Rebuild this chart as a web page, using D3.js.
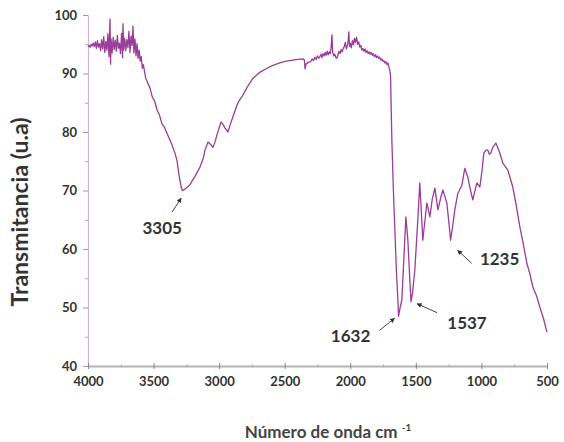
<!DOCTYPE html>
<html>
<head>
<meta charset="utf-8">
<script src="https://cdn.jsdelivr.net/npm/d3@7"></script>
<style>
  body { margin: 0; background: #fff; }
  text { font-family: Lato, "Open Sans", sans-serif; }
</style>
</head>
<body>
<script>
// wavenumber (cm-1) and transmittance
var waveNumber = [
  4000, 3992, 3984, 3976, 3968, 3960, 3952, 3944, 3936, 3928, 3920, 3912, 3904, 3896, 3888, 3880,
  3872, 3864, 3856, 3848, 3840, 3832, 3828, 3824, 3816, 3808, 3800, 3792, 3784, 3776, 3768, 3760,
  3752, 3744, 3736, 3733, 3728, 3720, 3712, 3704, 3696, 3688, 3680, 3672, 3664, 3657, 3650, 3642,
  3634, 3626, 3618, 3610, 3602, 3594, 3586, 3578, 3560, 3545, 3527, 3510, 3492, 3474, 3455, 3436,
  3417, 3398, 3380, 3360, 3340, 3322, 3305, 3290, 3280, 3270, 3245, 3223, 3190, 3146, 3120, 3108,
  3085, 3066, 3047, 3030, 3017, 2986, 2970, 2956, 2933, 2915, 2895, 2857, 2819, 2780, 2742, 2690,
  2636, 2590, 2537, 2490, 2437, 2400, 2361, 2350, 2345, 2338, 2320, 2308,
  2300, 2290, 2280, 2270, 2260, 2250, 2240, 2232, 2224, 2216, 2208, 2200, 2192, 2184, 2176, 2168,
  2160, 2152, 2146, 2140, 2134, 2126, 2118, 2110, 2102, 2094, 2086, 2078, 2070, 2062, 2054, 2046,
  2038, 2030, 2022, 2016, 2011, 2006, 2000, 1992, 1984, 1976, 1968, 1960, 1952, 1944, 1936, 1928,
  1920, 1912, 1904, 1896, 1888, 1880, 1872, 1864, 1856, 1848, 1840, 1832, 1824, 1816, 1808, 1800,
  1792, 1784, 1776, 1768, 1760, 1752, 1744, 1736, 1728, 1720, 1712, 1704, 1698, 1693, 1688, 1683,
  1672, 1660, 1648, 1637, 1632, 1620, 1607, 1592, 1576, 1561, 1546, 1537, 1525, 1508, 1485, 1470,
  1447, 1430, 1416, 1393, 1375, 1355, 1332, 1310, 1294, 1264, 1248, 1235, 1220, 1203, 1180, 1149,
  1127, 1104, 1085, 1066, 1035, 1012, 995, 982, 965, 951, 940, 928, 913, 900, 890, 875,
  860, 837, 799, 761, 735, 707, 680, 654, 630, 608, 580, 555, 524, 501
];
var transmittance = [
  94.6, 94.8, 94.5, 95.0, 94.7, 95.2, 94.6, 95.4, 94.3, 95.6, 94.5, 95.1, 93.9, 95.8, 94.2, 96.3,
  93.6, 95.5, 94.0, 96.8, 92.9, 99.3, 91.6, 95.9, 93.5, 96.2, 94.1, 95.7, 93.8, 96.5, 94.3, 95.2,
  93.4, 96.9, 92.7, 98.5, 94.0, 96.0, 93.9, 95.8, 94.4, 97.2, 93.6, 96.4, 94.8, 98.1, 93.5, 95.9,
  93.0, 95.1, 92.6, 94.0, 92.1, 92.9, 90.9, 91.5, 89.2, 88.4, 87.5, 86.0, 85.3, 83.8, 82.9, 81.4,
  80.8, 79.8, 78.9, 77.8, 76.6, 75.2, 72.5, 70.6, 70.0, 70.1, 70.5, 71.0, 72.2, 74.0, 75.6, 76.9,
  78.3, 77.9, 77.4, 78.4, 79.5, 81.7, 81.3, 80.7, 80.0, 81.3, 82.6, 85.0, 86.3, 87.9, 89.2, 90.2,
  90.9, 91.4, 91.8, 92.1, 92.3, 92.4, 92.5, 92.3, 90.8, 91.6, 91.9, 92.0,
  92.1, 92.5, 92.2, 92.8, 92.4, 93.0, 92.6, 92.9, 93.3, 92.7, 93.4, 93.0, 93.6, 93.1, 93.8, 93.2,
  93.7, 93.4, 94.5, 96.6, 93.6, 93.0, 93.3, 92.7, 92.6, 93.2, 93.8, 93.4, 94.1, 93.7, 94.3, 94.6,
  95.3, 94.2, 94.8, 95.6, 97.1, 94.6, 95.2, 94.4, 95.6, 94.9, 96.0, 95.3, 96.2, 95.0, 95.4, 94.5,
  94.8, 94.0, 94.3, 93.8, 94.2, 93.6, 93.9, 93.4, 93.7, 93.3, 93.6, 93.1, 93.4, 92.9, 93.2, 92.7,
  93.0, 92.6, 92.8, 92.3, 92.5, 92.1, 92.2, 91.8, 92.0, 91.5, 91.8, 91.0, 90.5, 89.5, 84.0, 78.6,
  70.5, 63.2, 56.0, 51.3, 48.5, 50.0, 51.3, 58.1, 65.5, 61.5, 54.7, 51.0, 52.5, 56.4, 65.0, 71.3,
  61.5, 65.0, 67.9, 65.5, 68.5, 70.4, 66.7, 68.8, 70.1, 67.9, 64.5, 61.5, 63.8, 66.7, 69.5, 70.9,
  73.8, 72.3, 70.2, 68.4, 71.3, 70.6, 73.5, 76.4, 76.9, 76.9, 76.2, 76.4, 77.4, 77.8, 78.1, 77.3,
  76.4, 74.7, 73.5, 70.6, 67.5, 63.8, 60.8, 57.6, 55.7, 53.5, 52.0, 50.1, 47.9, 45.8
];

var xTicks = [4000, 3500, 3000, 2500, 2000, 1500, 1000, 500];
var xMinorTicks = [3750, 3250, 2750, 2250, 1750, 1250, 750];
var yTicks = [40, 50, 60, 70, 80, 90, 100];
var yMinorTicks = [45, 55, 65, 75, 85, 95];

// annotated bands and where their labels sit (pixel offsets from the band minimum)
var peakLabels = ["3305", "1632", "1537", "1235"];
var peakWn = [3305, 1632, 1537, 1235];
var peakT = [69.9, 48.5, 51.0, 61.5];
var tipOff = [[2, 7], [-4, 2], [6, 2], [7, 10]];
var tailOff = [[-7, 21], [-19, 14], [26, 11], [21, 23]];
var labelOff = [[-17, 43], [-48, 26], [56, 27], [49, 25]];

const w = 564, h = 442;
const mLeft = 88, mRight = 547, mTop = 15, mBottom = 366;

const x = d3.scaleLinear().domain([4000, 500]).range([mLeft, mRight]);
const y = d3.scaleLinear().domain([40, 100]).range([mBottom, mTop]);

const svg = d3.select("body").append("svg")
  .attr("width", w)
  .attr("height", h);

// minor ticks
svg.append("g")
  .attr("transform", "translate(0," + mBottom + ")")
  .call(d3.axisBottom(x).tickValues(xMinorTicks).tickSize(3).tickFormat(""))
  .call(g => g.select(".domain").remove())
  .call(g => g.selectAll("line").attr("stroke", "#999").attr("transform", "translate(0,-1.5)"));

svg.append("g")
  .attr("transform", "translate(" + mLeft + ",0)")
  .call(d3.axisLeft(y).tickValues(yMinorTicks).tickSize(3).tickFormat(""))
  .call(g => g.select(".domain").remove())
  .call(g => g.selectAll("line").attr("stroke", "#aaa"));

// y axis
const yAxis = svg.append("g")
  .attr("transform", "translate(" + mLeft + ",0)")
  .call(d3.axisLeft(y).tickValues(yTicks).tickFormat(d3.format("d")).tickSize(5).tickSizeOuter(0).tickPadding(6));
yAxis.select(".domain").attr("stroke", "#cbb6cb").attr("stroke-width", 1.2);
yAxis.selectAll("line").attr("stroke", "#999");
yAxis.selectAll("text")
  .attr("font-size", 13).attr("font-weight", "bold").attr("fill", "#333");

// x axis
const xAxis = svg.append("g")
  .attr("transform", "translate(0," + mBottom + ")")
  .call(d3.axisBottom(x).tickValues(xTicks).tickFormat(d3.format("d")).tickSize(6).tickSizeOuter(0).tickPadding(5));
xAxis.select(".domain").attr("stroke", "#b4b4b4").attr("stroke-width", 2);
xAxis.selectAll("line").attr("stroke", "#888").attr("transform", "translate(0,-3)");
xAxis.selectAll("text")
  .attr("font-size", 13).attr("font-weight", "bold").attr("fill", "#333");

// spectrum
const pts = waveNumber.map((d, i) => [d, transmittance[i]]);
const line = d3.line().x(d => x(d[0])).y(d => y(d[1]));

svg.append("path")
  .datum(pts)
  .attr("fill", "none")
  .attr("stroke", "#9a3c9a")
  .attr("stroke-width", 1.3)
  .attr("stroke-linejoin", "round")
  .attr("d", line);

// arrows + labels
svg.append("defs").append("marker")
  .attr("id", "arrow")
  .attr("viewBox", "0 0 10 10")
  .attr("refX", 9).attr("refY", 5)
  .attr("markerWidth", 5).attr("markerHeight", 5)
  .attr("orient", "auto")
  .append("path")
  .attr("d", "M0,0L10,5L0,10z")
  .attr("fill", "#333");

peakWn.forEach((wn, i) => {
  const px = x(wn), py = y(peakT[i]);
  svg.append("line")
    .attr("x1", px + tailOff[i][0]).attr("y1", py + tailOff[i][1])
    .attr("x2", px + tipOff[i][0]).attr("y2", py + tipOff[i][1])
    .attr("stroke", "#444")
    .attr("stroke-width", 1)
    .attr("marker-end", "url(#arrow)");
  svg.append("text")
    .text(peakLabels[i])
    .attr("x", px + labelOff[i][0])
    .attr("y", py + labelOff[i][1])
    .attr("text-anchor", "middle")
    .attr("font-size", 17)
    .attr("font-weight", "bold")
    .attr("fill", "#333");
});

// axis titles
svg.append("text")
  .attr("transform", "translate(28,212)rotate(-90)")
  .attr("text-anchor", "middle")
  .attr("font-size", 23)
  .attr("font-weight", "bold")
  .attr("fill", "#333")
  .text("Transmitancia (u.a)");

const xt = svg.append("text")
  .attr("x", 328)
  .attr("y", 438)
  .attr("text-anchor", "middle")
  .attr("font-size", 17)
  .attr("font-weight", "bold")
  .attr("fill", "#444");
xt.append("tspan").text("Número de onda cm ");
xt.append("tspan").text("-1").attr("font-size", 10).attr("dy", -7);
</script>
</body>
</html>
